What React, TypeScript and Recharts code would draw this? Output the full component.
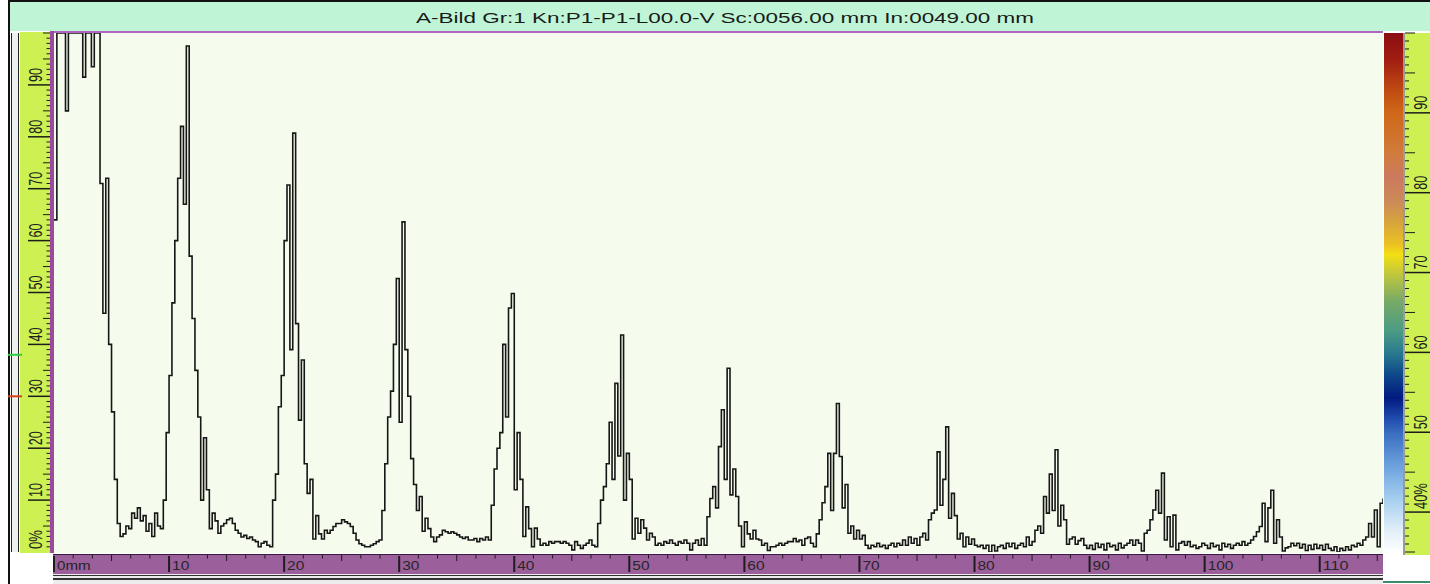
import { Line, LineChart, XAxis, YAxis } from "recharts";

// A-scan echo train: amplitude in % full screen height, one sample every 0.25 mm
const STEP_MM = 0.25;

const amp000 = [
  64, 100, 100, 100, 85, 100, 100, 100, 100, 100, 91.5, 100, 100, 93.5, 100, 100, 71, 46, 72, 40,
  27, 14, 5.5, 3, 3.5, 5, 4.5, 7.5, 6.5, 8.5, 6, 7, 4, 5.5, 3, 7.5, 5, 4.5, 10, 23,
];
const amp010 = [
  34, 48, 60, 72, 82, 67, 97.5, 57, 45, 35, 26, 10, 22, 12, 4.5, 7.5, 6, 3.6, 5, 5.5,
  6.2, 6.5, 5.5, 4.2, 3.6, 2.9, 3.2, 2.6, 2.9, 2.3, 2, 1, 1.7, 2, 1.3, 1, 10, 15, 28, 34,
];
const amp020 = [
  60, 70.7, 39, 80.7, 44, 25.4, 37, 17, 11.3, 14, 2.5, 7, 3.5, 2.5, 4.2, 3.6, 4.2, 4.9, 5.5, 5.5,
  6.2, 5.8, 5.5, 4.9, 3.6, 2.3, 1.6, 1.3, 1, 1, 1.3, 1.6, 2, 2.3, 8, 17, 26, 31, 40, 52.7,
];
const amp030 = [
  25, 63.6, 39, 30, 18, 13, 8, 10.7, 4, 6.5, 4.5, 2.9, 2, 2.9, 3.3, 4.2, 3.9, 3.6, 3.9, 3.6,
  3.3, 2.9, 2.6, 2.9, 2.3, 2.3, 2.6, 2, 2.6, 2.3, 2.9, 2.3, 9, 16, 20, 23, 40, 26, 47, 49.8,
];
const amp040 = [
  12, 23, 14, 3, 8.7, 4.5, 1, 4.6, 2.5, 1.3, 1.7, 1.3, 2, 1.7, 2, 2, 1.7, 2, 1.7, 1.3,
  0.4, 2, 1.3, 0.7, 1.3, 1.7, 2.3, 1.3, 1, 5.5, 10, 12.6, 17, 25, 14, 32.5, 18.5, 41.8, 10, 19,
];
const amp050 = [
  14, 2.5, 6.5, 3.6, 6.2, 4.6, 2.3, 3.6, 2.9, 1.3, 1.7, 1.3, 2, 1.7, 2.3, 1.7, 1.3, 2, 1.7, 2.3,
  1.7, 0.4, 1.7, 2.3, 1.3, 2.6, 1.3, 6.8, 10.3, 12.6, 8.5, 20.3, 27.4, 14, 35.4, 11, 16, 10.7, 5, 1,
];
const amp060 = [
  5.8, 3.5, 2.5, 4.2, 2.5, 2.3, 1.3, 1.7, 0.3, 1, 1, 1.3, 1.7, 1.3, 1.7, 2, 2, 2.6, 2, 2.3,
  1.3, 2.6, 2.9, 1.7, 1, 3.5, 6.2, 9.5, 12.6, 19, 8, 19, 28.6, 18.4, 8.5, 13, 3.6, 5, 2.5, 4.2,
];
const amp070 = [
  2.5, 3.2, 1.3, 0.7, 1.3, 1, 1.7, 1, 1.3, 0.7, 1.3, 1.7, 1, 1.7, 1.3, 2.3, 1.3, 2.9, 1.7, 2.6,
  1.3, 2.9, 3.6, 2.3, 6.2, 7.5, 8.1, 19.3, 9, 14, 24.1, 6.5, 11.3, 7, 2.5, 3.6, 1, 2.9, 1.5, 2.5,
];
const amp080 = [
  1.3, 1, 1.3, 0.7, 1.3, 0, 1.3, 0.2, 1, 1.3, 0.7, 1.7, 1, 1.7, 0.7, 1.3, 1.7, 1, 2.9, 1.3,
  2, 4.2, 5, 3.6, 10.7, 7.5, 15, 8, 19.7, 5, 9, 6.2, 1.5, 2.5, 2.9, 1.5, 2.2, 2.6, 1.3, 0.7,
];
const amp090 = [
  1.3, 0.5, 1.7, 0.9, 1.5, 0.4, 1.7, 1, 1.3, 0.4, 1.7, 0.8, 1.3, 1.7, 2.3, 1.3, 2.3, 1.7, 0.2, 3.6,
  4.2, 6.2, 8.1, 11.9, 7.5, 15.2, 2.3, 6.8, 1, 7.1, 0.4, 1.7, 2, 1.3, 2, 1, 1.3, 0.7, 1, 1.7,
];
const amp100 = [
  1.3, 0.7, 1.7, 1, 1.3, 0.4, 1.7, 1, 1.5, 0.7, 1.3, 1.7, 1.3, 2, 1.3, 1.7, 2.3, 3, 3.9, 4.9,
  9.4, 2, 8.5, 11.9, 1.7, 6.2, 2.9, 0.2, 0.8, 1, 1.7, 1.2, 1.7, 0.8, 1.5, 0.3, 1.3, 0.5, 1.5, 0.7,
];
const amp110 = [
  1.3, 0.4, 1.5, 0.7, 0.3, 1, 0, 0.7, 0.3, 1, 0.4, 1.3, 1, 1.7, 1.3, 2.3, 2.9, 5.5, 2.9, 8.1,
  1, 9.4, 10.3,
];

const RANGE_MM = 115.5;
const TITLE = "A-Bild Gr:1 Kn:P1-P1-L00.0-V Sc:0056.00 mm In:0049.00 mm";
const distanceLabels = ["0mm", "10", "20", "30", "40", "50", "60", "70", "80", "90", "100", "110"];
const amplitudeLabels = ["0%", "10", "20", "30", "40", "50", "60", "70", "80", "90"];
const paletteLabels = ["40%", "50", "60", "70", "80", "90"];

// gate thresholds shown on the left slider
const gates = [
  { level: 38, color: "#2ccf3c" },
  { level: 30, color: "#d8401c" },
];

// amplitude colour palette (right scale, 35..100 %)
const palette = [
  { level: 100, color: "#8a0e12" },
  { level: 96.6, color: "#a21e12" },
  { level: 92.9, color: "#bf4a12" },
  { level: 90, color: "#cf6818" },
  { level: 85, color: "#d07c3c" },
  { level: 82, color: "#cc7a5e" },
  { level: 79, color: "#cc8a58" },
  { level: 76.5, color: "#d6a23e" },
  { level: 73.5, color: "#ecc222" },
  { level: 72.3, color: "#f2e012" },
  { level: 70, color: "#c4c83a" },
  { level: 66.5, color: "#78aa66" },
  { level: 62.8, color: "#4c9c84" },
  { level: 60, color: "#2a7a8e" },
  { level: 57.4, color: "#0e4a8a" },
  { level: 54.4, color: "#021a80" },
  { level: 51.6, color: "#2250b0" },
  { level: 50, color: "#3a6ec0" },
  { level: 45.4, color: "#72a8e0" },
  { level: 41.6, color: "#a8d0f0" },
  { level: 37.9, color: "#e0eef8" },
  { level: 35, color: "#ffffff" },
];

const samples = [amp000, amp010, amp020, amp030, amp040, amp050, amp060, amp070, amp080, amp090, amp100, amp110]
  .flat()
  .map((amp, i) => ({ mm: i * STEP_MM, amp }));

const distanceTicks = Array.from({ length: 70 }, (_, k) => (k * 10) / 6);
const amplitudeTicks = Array.from({ length: 101 }, (_, k) => k);
const paletteTicks = Array.from({ length: 66 }, (_, k) => 35 + k);

// screen layout
const W = 1430;
const H = 584;
const PLOT_L = 54;
const PLOT_R = 1383;
const PLOT_T = 33;
const PLOT_B = 552;
const INK = "#1c1c1c";
const PANEL = "#cdf052";
const FONT = "'Liberation Sans', Arial, sans-serif";

function labelWidth(text: string, digit: number, wide: number) {
  let w = 0;
  for (const ch of text) w += ch === "m" || ch === "%" ? wide : digit;
  return w;
}

function RotatedLabel({ x, y, text }: { x: number; y: number; text: string }) {
  return (
    <text
      transform={`translate(${x},${y}) rotate(-90)`}
      fontSize={18}
      fontFamily={FONT}
      fill="#202020"
      textLength={labelWidth(text, 7, 12)}
      lengthAdjust="spacingAndGlyphs"
    >
      {text}
    </text>
  );
}

function AmplitudeTick(props: any) {
  const y = props.y as number;
  const v = props.payload.value as number;
  const gate = gates.find((g) => g.level === v);
  const major = v % 10 === 0 && v < 100;
  const len = major ? 0 : v % 5 === 0 ? 7 : 3.5;
  return (
    <g>
      {len > 0 && <line x1={50 - len} x2={50} y1={y} y2={y} stroke={INK} />}
      {major && v > 0 && <line x1={28} x2={50} y1={y} y2={y} stroke={INK} strokeWidth={1.5} />}
      {major && <RotatedLabel x={42} y={v === 0 ? y - 3 : y - 3} text={amplitudeLabels[v / 10]} />}
      {gate && <line x1={8} x2={22} y1={y} y2={y} stroke={gate.color} strokeWidth={2} />}
    </g>
  );
}

function PaletteTick(props: any) {
  const y = props.y as number;
  const v = props.payload.value as number;
  const x0 = PLOT_R + 22;
  if (v % 10 === 0 && v < 100) {
    return (
      <g>
        <line x1={x0} x2={W} y1={y} y2={y} stroke={INK} strokeWidth={1.5} />
        <RotatedLabel x={W - 3} y={y - 3} text={paletteLabels[v / 10 - 4]} />
      </g>
    );
  }
  const len = v % 5 === 0 ? 10 : 4;
  return <line x1={x0} x2={x0 + len} y1={y} y2={y} stroke={INK} />;
}

function DistanceTick(props: any) {
  const x = props.x as number;
  const k = Math.round((props.payload.value as number) * 0.6);
  if (k % 6 === 0) {
    const text = distanceLabels[k / 6];
    return (
      <g>
        <line x1={x} x2={x} y1={556} y2={572} stroke={INK} strokeWidth={2} />
        <text
          x={x + 3}
          y={570}
          fontSize={12}
          fontFamily={FONT}
          fill="#262626"
          textLength={labelWidth(text, 8.6, 12.5)}
          lengthAdjust="spacingAndGlyphs"
        >
          {text}
        </text>
      </g>
    );
  }
  const len = k % 3 === 0 ? 6 : 3.5;
  return <line x1={x} x2={x} y1={555} y2={555 + len} stroke={INK} />;
}

const box = (left: number, top: number, width: number, height: number, background: string) => ({
  position: "absolute" as const,
  left,
  top,
  width,
  height,
  background,
});

export default function App() {
  const gradient = `linear-gradient(to bottom, ${palette
    .map((p) => `${p.color} ${(((100 - p.level) / 65) * 100).toFixed(2)}%`)
    .join(", ")})`;

  return (
    <div style={{ position: "absolute", left: 0, top: 0, width: W, height: H, background: "#ffffff", overflow: "hidden" }}>
      {/* window frame and title bar */}
      <div style={box(8, 0, W - 8, 2, "#111")} />
      <div style={box(8, 0, 1.5, H, "#111")} />
      <div style={box(9.5, 2, W - 9.5, 29, "#bff5d6")}>
        <svg width={W - 9.5} height={29} style={{ display: "block" }}>
          <text
            x={406}
            y={21}
            fontSize={14}
            fontFamily={FONT}
            fill="#1a1a1a"
            textLength={618}
            lengthAdjust="spacingAndGlyphs"
          >
            {TITLE}
          </text>
        </svg>
      </div>
      <div style={box(50, 31, PLOT_R - 50, 2, "#b066c0")} />

      {/* left gate slider and amplitude panel */}
      <div style={{ ...box(11, PLOT_T, 6, PLOT_B - PLOT_T, "#eef2ee"), borderLeft: "1.5px solid #222", borderRight: "1.5px solid #222" }} />
      <div style={box(19.5, 32, 30.5, PLOT_B - 32 + 1, PANEL)} />
      <div style={box(50, 31, 3.5, PLOT_B - 31 + 1, "#9c4aa0")} />

      {/* plot area */}
      <div style={box(PLOT_L, PLOT_T, PLOT_R - PLOT_L, PLOT_B - PLOT_T + 1, "#f5fced")} />

      {/* distance bar and scroll track */}
      <div style={{ ...box(53, 554, PLOT_R - 53, 19, "#9b5f9b"), borderTop: "1.5px solid #3a1a3a" }} />
      <div style={box(53, 574, PLOT_R - 53, 10, "#ececec")} />
      <div style={box(53, 575, PLOT_R - 53, 1, "#333")} />
      <div style={box(53, 578, PLOT_R - 53, 2, "#333")} />
      <div style={box(PLOT_R, 581, W - PLOT_R, 2, "#3c8c6c")} />

      {/* palette bar and its scale */}
      <div style={box(PLOT_R + 1, PLOT_T, 19, PLOT_B - PLOT_T + 1, gradient)} />
      <div style={box(PLOT_R + 20, PLOT_T, 2, PLOT_B - PLOT_T + 3, "#9a9a9a")} />
      <div style={box(PLOT_R + 22, PLOT_T, W - PLOT_R - 22, PLOT_B - PLOT_T + 3, PANEL)} />

      <div style={{ position: "absolute", left: 0, top: 0 }}>
        <LineChart
          width={W}
          height={H}
          data={samples}
          margin={{ top: PLOT_T, right: 0, bottom: 0, left: PLOT_L - 34 }}
        >
          <XAxis
            dataKey="mm"
            type="number"
            domain={[0, RANGE_MM]}
            ticks={distanceTicks}
            interval={0}
            height={H - PLOT_B}
            axisLine={false}
            tickLine={false}
            tick={DistanceTick}
            allowDataOverflow
          />
          <YAxis
            yAxisId="amp"
            type="number"
            domain={[0, 100]}
            ticks={amplitudeTicks}
            interval={0}
            width={34}
            axisLine={false}
            tickLine={false}
            tick={AmplitudeTick}
            allowDataOverflow
          />
          <YAxis
            yAxisId="palette"
            orientation="right"
            type="number"
            domain={[35, 100]}
            ticks={paletteTicks}
            interval={0}
            width={W - PLOT_R}
            axisLine={false}
            tickLine={false}
            tick={PaletteTick}
            allowDataOverflow
          />
          <Line
            yAxisId="amp"
            dataKey="amp"
            type="stepAfter"
            stroke="#161616"
            strokeWidth={1.6}
            dot={false}
            isAnimationActive={false}
          />
        </LineChart>
      </div>
    </div>
  );
}
